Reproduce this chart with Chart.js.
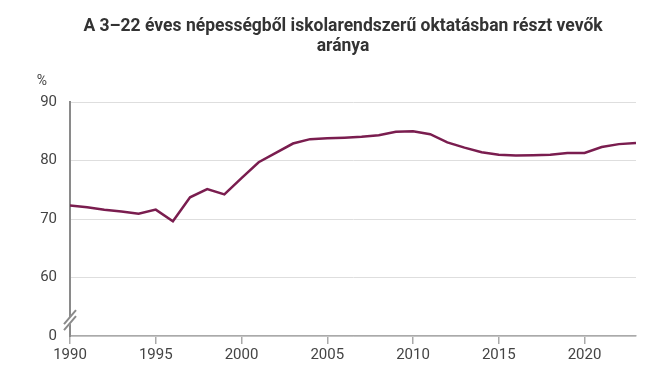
<!DOCTYPE html>
<html>
<head>
<meta charset="utf-8">
<script src="https://cdn.jsdelivr.net/npm/chart.js@4/dist/chart.umd.min.js"></script>
<style>
  html, body { margin: 0; padding: 0; background: #fff; }
  #wrap { width: 652px; height: 374px; }
</style>
</head>
<body>
<div id="wrap"><canvas id="grafica" width="652" height="374"></canvas></div>
<script>
// ---------- data ----------
const titleLines = ["A 3–22 éves népességből iskolarendszerű oktatásban részt vevők", "aránya"];
const unitLabel = "%";
const years = [1990, 1991, 1992, 1993, 1994, 1995, 1996, 1997, 1998, 1999,
               2000, 2001, 2002, 2003, 2004, 2005, 2006, 2007, 2008, 2009,
               2010, 2011, 2012, 2013, 2014, 2015, 2016, 2017, 2018, 2019,
               2020, 2021, 2022, 2023];
const share = [72.3, 72.0, 71.6, 71.3, 70.9, 71.6, 69.6, 73.7, 75.1, 74.2,
               77.0, 79.7, 81.3, 82.9, 83.65, 83.8, 83.9, 84.05, 84.3, 84.9,
               85.0, 84.5, 83.1, 82.2, 81.4, 81.0, 80.85, 80.9, 81.0, 81.3,
               81.3, 82.3, 82.8, 83.0];
const yTicks = [50, 60, 70, 80, 90];       // 50 stands for the broken-axis zero
const yTickLabels = ["0", "60", "70", "80", "90"];
const xTicks = [1990, 1995, 2000, 2005, 2010, 2015, 2020];

const FONT = "Roboto, 'Noto Sans', sans-serif";

// title, % label and axis break
const extras = {
  id: "extras",
  afterDraw(chart) {
    const ctx = chart.ctx;
    const ys = chart.scales.y;
    const left = chart.chartArea.left;
    ctx.save();
    ctx.fillStyle = "#333";
    ctx.textAlign = "center";
    ctx.textBaseline = "middle";
    ctx.font = "bold 17.5px " + FONT;
    ctx.fillText(titleLines[0], 343, 27);
    ctx.fillText(titleLines[1], 343, 47);

    ctx.font = "14px " + FONT;
    ctx.fillStyle = "#444";
    ctx.fillText(unitLabel, 42, 81);

    // break marks on the y axis
    const yb = ys.getPixelForValue(52.8);
    ctx.fillStyle = "#fff";
    ctx.beginPath();
    ctx.moveTo(left - 6, yb + 7);
    ctx.lineTo(left + 6, yb - 7 - 5);
    ctx.lineTo(left + 6, yb - 7 + 5);
    ctx.lineTo(left - 6, yb + 7 + 5);
    ctx.closePath();
    ctx.fill();
    ctx.strokeStyle = "#8a8a8a";
    ctx.lineWidth = 2;
    ctx.beginPath();
    ctx.moveTo(left - 6, yb + 7 - 2.5);
    ctx.lineTo(left + 6, yb - 7 - 2.5);
    ctx.moveTo(left - 6, yb + 7 + 3.5);
    ctx.lineTo(left + 6, yb - 7 + 3.5);
    ctx.stroke();
    ctx.restore();
  }
};

new Chart(document.getElementById("grafica"), {
  type: "line",
  data: {
    datasets: [{
      data: years.map((y, i) => ({ x: y, y: share[i] })),
      borderColor: "#7a1d4f",
      borderWidth: 2.5,
      pointRadius: 0,
      tension: 0,
      fill: false
    }]
  },
  options: {
    responsive: false,
    animation: false,
    layout: { padding: { top: 102, right: 16, left: 0, bottom: 8 } },
    plugins: { legend: { display: false }, tooltip: { enabled: false } },
    scales: {
      x: {
        type: "linear",
        min: 1990,
        max: 2023,
        afterBuildTicks: s => { s.ticks = xTicks.map(v => ({ value: v })); },
        ticks: {
          font: { family: FONT, size: 15 },
          color: "#444",
          padding: 2,
          maxRotation: 0,
          callback: v => String(v)
        },
        grid: { drawOnChartArea: false, drawTicks: true, tickLength: 8, color: "#aaa", lineWidth: 1.5 },
        border: { color: "#aaa", width: 1.5 }
      },
      y: {
        min: 50,
        max: 90,
        afterBuildTicks: s => { s.ticks = yTicks.map(v => ({ value: v })); },
        afterFit: s => { s.width = 70; },
        ticks: {
          font: { family: FONT, size: 15 },
          color: "#444",
          padding: 13,
          callback: v => yTickLabels[yTicks.indexOf(v)]
        },
        grid: { color: "#dedede", lineWidth: 1, drawTicks: false },
        border: { color: "#8a8a8a", width: 2 }
      }
    }
  },
  plugins: [extras]
});
</script>
</body>
</html>
